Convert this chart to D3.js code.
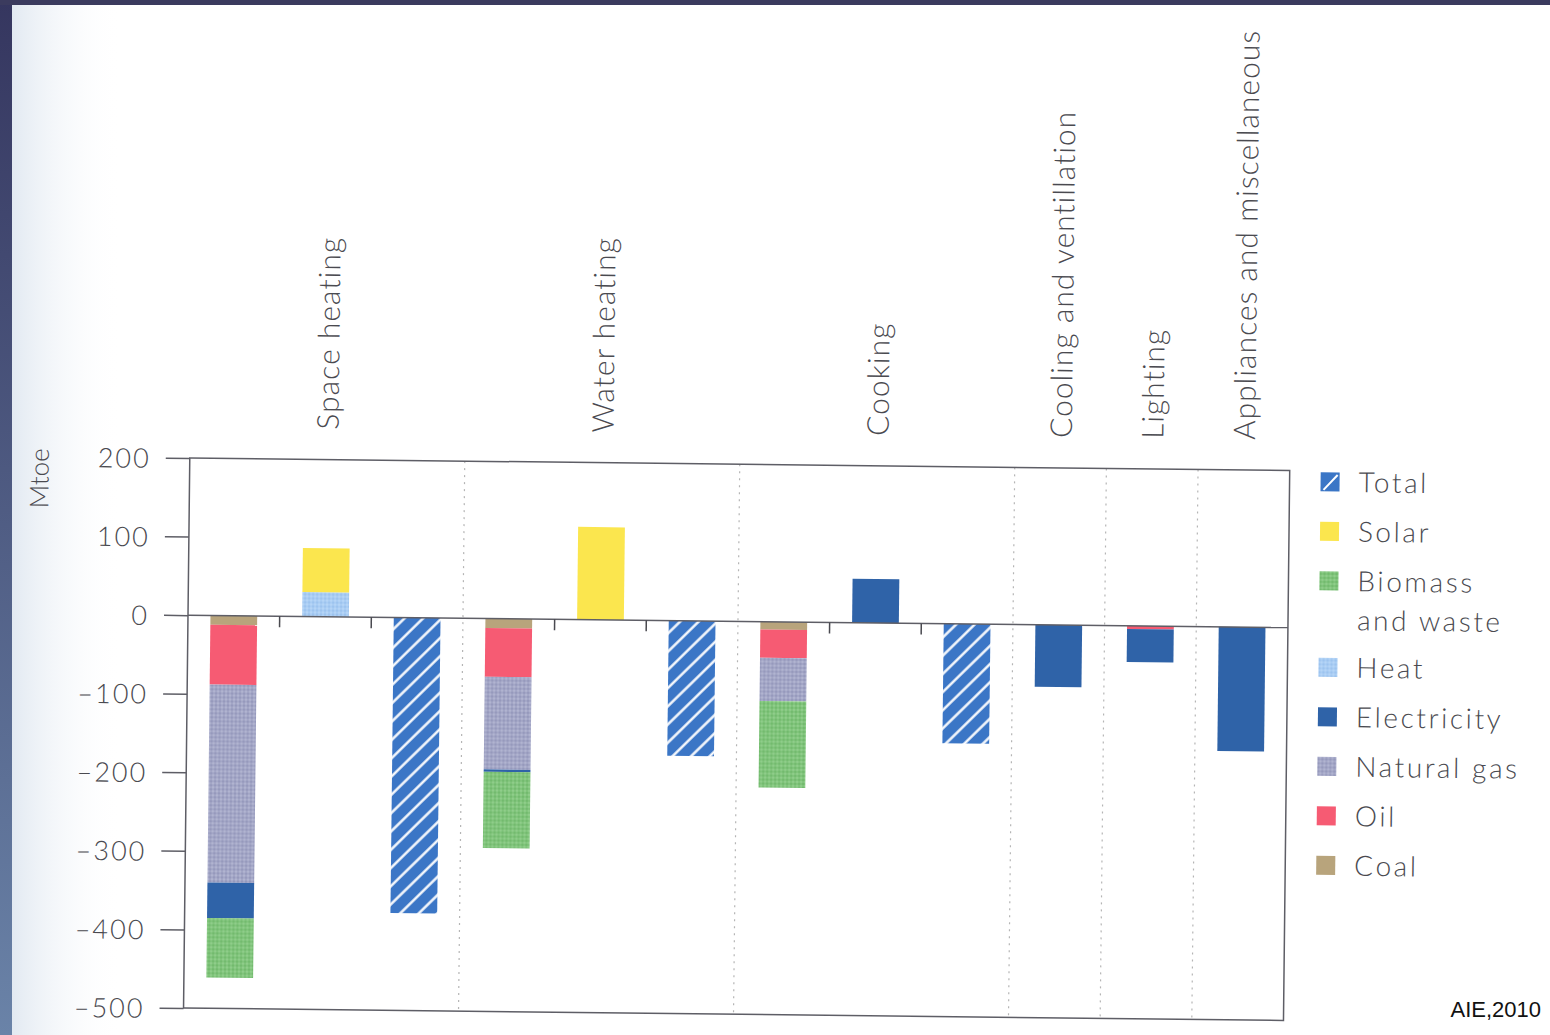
<!DOCTYPE html>
<html>
<head>
<meta charset="utf-8">
<script src="https://cdn.jsdelivr.net/npm/d3@7"></script>
<style>
  html, body { margin: 0; padding: 0; background: #ffffff; }
  svg { display: block; }
</style>
</head>
<body>
<svg id="chart" width="1550" height="1035"></svg>
<script>
// ---------- DATA ----------
const slots = ["sh_fuel","sh_new","sh_total","wh_fuel","wh_new","wh_total","ck_fuel","ck_new","ck_total","cool","light","appl"];
const categories = ["Space heating","Water heating","Cooking","Cooling and ventillation","Lighting","Appliances and miscellaneous"];
const categoryFirstSlot = [0, 3, 6, 9, 10, 11];
const categoryLastSlot  = [2, 5, 8, 9, 10, 11];

const coal        = [-12,  0,    0, -12,   0,    0, -10,  0,    0,   0,   0,    0];
const oil         = [-76,  0,    0, -62,   0,    0, -36,  0,    0,   0,  -4,    0];
const naturalGas  = [-252, 0,    0, -118,  0,    0, -55,  0,    0,   0,   0,    0];
const electricity = [-45,  0,    0,  -3,   0,    0,   0, 56,    0, -79, -42, -158];
const biomass     = [-76,  0,    0, -97,   0,    0, -110, 0,    0,   0,   0,    0];
const heat        = [0,   31,    0,   0,   0,    0,   0,  0,    0,   0,   0,    0];
const solar       = [0,   56,    0,   0, 118,    0,   0,  0,    0,   0,   0,    0];
const total       = [0,    0, -376,   0,   0, -172,   0,  0, -152,   0,   0,    0];

const yTicks = [200, 100, 0, -100, -200, -300, -400, -500];
const legendLabels = [["Total"],["Solar"],["Biomass","and waste"],["Heat"],["Electricity"],["Natural gas"],["Oil"],["Coal"]];
const legendKeys = ["total","solar","biomass","heat","electricity","naturalGas","oil","coal"];
const stackKeys = ["coal","oil","naturalGas","electricity","biomass","heat","solar","total"];
const seriesArrays = {coal, oil, naturalGas, electricity, biomass, heat, solar, total};

// ---------- STYLE ----------
const fills = {
  total: "url(#hatch)", solar: "#fbe64e", biomass: "url(#dotsBio)", heat: "url(#dotsHeat)",
  electricity: "#2f63a8", naturalGas: "url(#dotsGas)", oil: "#f65b73", coal: "#b8a47c"
};
const textColor = "#4a4a50";
const fontFam = "Lato, 'Open Sans', sans-serif";
const fontW = 300;

const svg = d3.select("#chart");
const defs = svg.append("defs");

// page background / scan edges
const lg = defs.append("linearGradient").attr("id","edgeGrad").attr("x1",0).attr("y1",0).attr("x2",0).attr("y2",1);
lg.append("stop").attr("offset","0%").attr("stop-color","#35365f");
lg.append("stop").attr("offset","100%").attr("stop-color","#6a83a8");
const wash = defs.append("linearGradient").attr("id","washGrad").attr("x1",0).attr("y1",0).attr("x2",1).attr("y2",0);
wash.append("stop").attr("offset","0%").attr("stop-color","#dfe7f0").attr("stop-opacity",0.9);
wash.append("stop").attr("offset","100%").attr("stop-color","#ffffff").attr("stop-opacity",0);

const hatch = defs.append("pattern").attr("id","hatch").attr("patternUnits","userSpaceOnUse")
  .attr("width",13).attr("height",13).attr("patternTransform","rotate(45)");
hatch.append("rect").attr("width",13).attr("height",13).attr("fill","#3b76c6");
hatch.append("line").attr("x1",6.5).attr("y1",0).attr("x2",6.5).attr("y2",13).attr("stroke","#ffffff").attr("stroke-width",2.4);

function dots(id, base, dark, light){
  const p = defs.append("pattern").attr("id",id).attr("patternUnits","userSpaceOnUse").attr("width",4).attr("height",4);
  p.append("rect").attr("width",4).attr("height",4).attr("fill",base);
  p.append("circle").attr("cx",1).attr("cy",1).attr("r",0.9).attr("fill",dark);
  p.append("circle").attr("cx",3).attr("cy",3).attr("r",0.9).attr("fill",light);
}
dots("dotsGas","#a3a6c6","#8f93b8","#b8bbd6");
dots("dotsBio","#80c47b","#6cb668","#97d292");
dots("dotsHeat","#a9cdf4","#97bfec","#bcd9f8");

svg.append("rect").attr("width",1550).attr("height",1035).attr("fill","#ffffff");
svg.append("rect").attr("x",12).attr("y",0).attr("width",110).attr("height",1035).attr("fill","url(#washGrad)");
svg.append("rect").attr("x",0).attr("y",0).attr("width",12).attr("height",1035).attr("fill","url(#edgeGrad)");
svg.append("rect").attr("x",0).attr("y",0).attr("width",1550).attr("height",5).attr("fill","#3b3b5e");

// ---------- SCALES ----------
const left = 188, right = 1288;
const x = d3.scaleBand().domain(slots).range([left, right]).paddingInner(0.49).paddingOuter(0.245);
const y = d3.scaleLinear().domain([-500, 200]).range([1008, 458]);
const step = x.step(), bw = x.bandwidth();

const g = svg.append("g").attr("transform", `rotate(0.65, ${left}, ${y(0)})`);

// dotted separators between categories
categoryLastSlot.slice(0, -1).forEach(si => {
  const xb = x(slots[si]) + bw + (step - bw) / 2;
  g.append("line").attr("x1", xb).attr("x2", xb).attr("y1", y(200)).attr("y2", y(-500))
    .attr("stroke","#b5b5b5").attr("stroke-width",1.2).attr("stroke-dasharray","2,5");
});

// ---------- BARS ----------
const rows = slots.map((s, i) => {
  const r = {slot: s};
  stackKeys.forEach(k => r[k] = seriesArrays[k][i]);
  return r;
});
const stacked = d3.stack().keys(stackKeys).offset(d3.stackOffsetDiverging)(rows);

g.append("g").selectAll("g").data(stacked).join("g")
  .attr("fill", d => fills[d.key])
  .selectAll("rect").data(d => d.filter(p => p[1] - p[0] !== 0)).join("rect")
  .attr("x", d => x(d.data.slot))
  .attr("width", bw)
  .attr("y", d => y(d[1]))
  .attr("height", d => y(d[0]) - y(d[1]));

// ---------- AXES / FRAME ----------
g.append("rect").attr("x", left).attr("y", y(200)).attr("width", right - left).attr("height", y(-500) - y(200))
  .attr("fill","none").attr("stroke","#5e5e66").attr("stroke-width",1.5);
g.append("line").attr("x1", left).attr("x2", right).attr("y1", y(0)).attr("y2", y(0))
  .attr("stroke","#5e5e66").attr("stroke-width",1.5);

// ticks on zero line between bars of same category
categoryFirstSlot.forEach((fs, ci) => {
  for (let si = fs; si < categoryLastSlot[ci]; si++) {
    const xb = x(slots[si]) + bw + (step - bw) / 2;
    g.append("line").attr("x1", xb).attr("x2", xb).attr("y1", y(0)).attr("y2", y(0) + 11)
      .attr("stroke","#4a4a50").attr("stroke-width",1.5);
  }
});

const yAxis = d3.axisLeft(y).tickValues(yTicks).tickSize(24).tickPadding(15).tickFormat(d => d < 0 ? "\u2013" + Math.abs(d) : String(d));
const ya = g.append("g").attr("transform", `translate(${left},0)`).call(yAxis);
ya.select(".domain").remove();
ya.selectAll(".tick line").attr("stroke","#5e5e66").attr("stroke-width",1.5);
ya.selectAll(".tick text").attr("fill", textColor).attr("font-family", fontFam).attr("font-weight", fontW)
  .attr("font-size", 27).attr("letter-spacing", 2).attr("dy", "0.36em");

g.append("text").attr("transform", "translate(47,480) rotate(-90)")
  .attr("text-anchor","middle").attr("fill", textColor).attr("font-family", fontFam).attr("font-weight", fontW)
  .attr("font-size", 26).text("Mtoe");

// category labels
categories.forEach((c, i) => {
  const cx = (x(slots[categoryFirstSlot[i]]) + x(slots[categoryLastSlot[i]]) + bw) / 2;
  g.append("text").attr("transform", `translate(${cx},428) rotate(-90)`)
    .attr("dy","0.36em").attr("text-anchor","start")
    .attr("fill", textColor).attr("font-family", fontFam).attr("font-weight", fontW)
    .attr("font-size", 30).attr("letter-spacing", 1)
    .text(c);
});

// legend
const legendY0 = 469, legendStep = 49.5;
let ly = legendY0;
legendKeys.forEach((k, i) => {
  const row = g.append("g").attr("transform", `translate(1319,${ly})`);
  row.append("rect").attr("x",0).attr("y",-9.5).attr("width",19).attr("height",19).attr("fill", fills[k]);
  if (k === "total") {
    row.select("rect").attr("fill","#3b76c6");
    row.append("line").attr("x1",3).attr("y1",8).attr("x2",17).attr("y2",-7).attr("stroke","#fff").attr("stroke-width",2);
  }
  legendLabels[i].forEach((t, j) => {
    row.append("text").attr("x",38).attr("y", j * 39).attr("dy","0.36em")
      .attr("fill", textColor).attr("font-family", fontFam).attr("font-weight", fontW)
      .attr("font-size", 28).attr("letter-spacing", 2.6)
      .text(t);
  });
  ly += legendStep + (legendLabels[i].length - 1) * 37;
});

// source
svg.append("text").attr("x", 1541).attr("y", 1017).attr("text-anchor","end")
  .attr("font-family","'Liberation Sans', Arial, sans-serif").attr("font-size", 22).attr("fill","#111")
  .text("AIE,2010");
</script>
</body>
</html>
